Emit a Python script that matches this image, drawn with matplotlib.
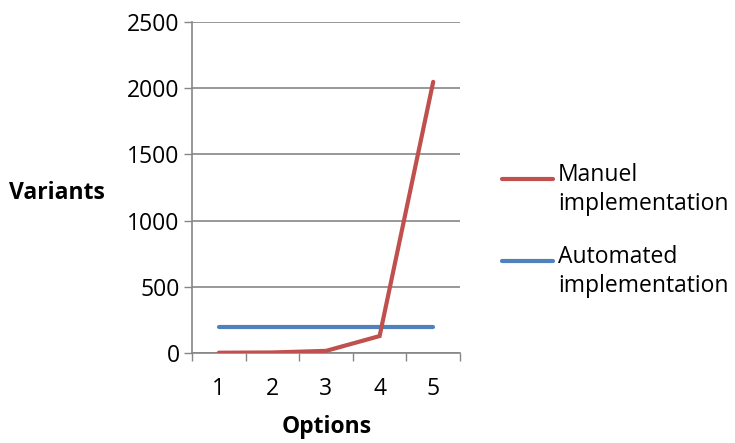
import matplotlib
matplotlib.use("Agg")
import matplotlib.pyplot as plt
from matplotlib.lines import Line2D

plt.rcParams['font.family'] = ['Open Sans', 'DejaVu Sans']

options = [1, 2, 3, 4, 5]
manuel = [2, 4, 16, 128, 2048]
automated = [200, 200, 200, 200, 200]
series_names = ["Manuel\nimplementation", "Automated\nimplementation"]
y_ticks = [0, 500, 1000, 1500, 2000, 2500]

RED = "#C0504D"
BLUE = "#4F81BD"
GRID = "#868686"
W, H = 735, 443
FS = 16.5

fig = plt.figure(figsize=(W / 100, H / 100), dpi=100)
ax = fig.add_axes([192 / W, 1 - 353 / H, (460 - 192) / W, (353 - 22) / H])

ax.plot(options, automated, color=BLUE, lw=3.0, solid_capstyle='round', zorder=3)
ax.plot(options, manuel, color=RED, lw=3.0, solid_capstyle='round',
        solid_joinstyle='miter', zorder=4)

ax.set_xlim(0.5, 5.5)
ax.set_ylim(0, 2500)
ax.set_yticks(y_ticks)
ax.set_yticklabels([str(v) for v in y_ticks], fontsize=FS)
ax.set_xticks(options)
ax.set_xticklabels([str(v) for v in options], fontsize=FS)
ax.set_xticks([x + 0.5 for x in [0] + options], minor=True)
ax.tick_params(axis='x', which='major', length=0, pad=17)
ax.tick_params(axis='x', which='minor', length=6, width=1, color=GRID)
ax.tick_params(axis='y', length=6, width=1, color=GRID, pad=3)

ax.grid(axis='y', color=GRID, lw=1.2)
ax.set_axisbelow(True)
for s in ['top', 'right']:
    ax.spines[s].set_visible(False)
for s in ['left', 'bottom']:
    ax.spines[s].set_color(GRID)
    ax.spines[s].set_linewidth(1.2)

fig.text(9 / W, 1 - 193 / H, "Variants", fontsize=FS, fontweight='bold',
         ha='left', va='center')
fig.text(327 / W, 1 - 427 / H, "Options", fontsize=FS, fontweight='bold',
         ha='center', va='center')

# legend
for name, color, ly in zip(series_names, [RED, BLUE], [179, 261]):
    fig.add_artist(Line2D([502 / W, 553 / W], [1 - ly / H, 1 - ly / H],
                          color=color, lw=3.0, solid_capstyle='round',
                          transform=fig.transFigure))
    fig.text(558 / W, 1 - (ly - 16) / H, name, fontsize=FS, ha='left', va='top',
             linespacing=1.27)

fig.savefig("out.png", dpi=100)
